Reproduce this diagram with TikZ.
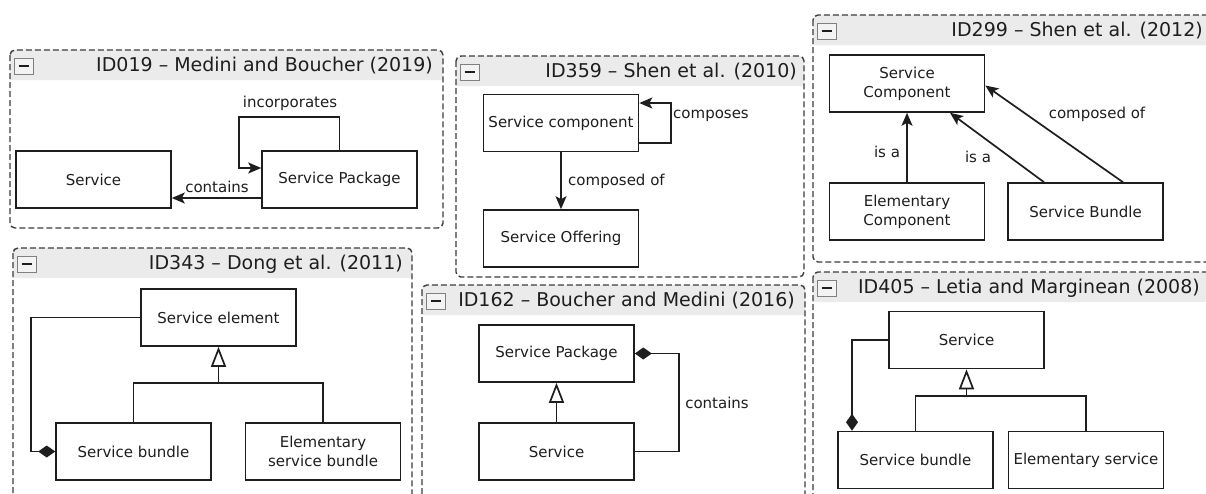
\documentclass[tikz,border=0pt]{standalone}
\usepackage{fontspec}
\setmainfont{DejaVu Sans}
\usetikzlibrary{arrows.meta}
\definecolor{ink}{HTML}{1E1E1E}
\definecolor{barcol}{HTML}{EBEBEB}
\definecolor{framecol}{HTML}{3C3C3C}
\tikzset{
  frame/.style={draw=framecol, line width=1.4pt, dash pattern=on 6pt off 3pt, rounded corners=5pt},
  barfill/.style={fill=barcol},
  minusbox/.style={draw=gray, fill=barcol!60, line width=0.9pt, minimum width=19pt, minimum height=16pt, inner sep=0pt,
    path picture={\draw[line width=2.2pt, ink] ([xshift=-5pt]path picture bounding box.center) -- ([xshift=5pt]path picture bounding box.center);}},
  ptitle/.style={text=ink, font=\fontsize{19}{22}\selectfont, inner sep=0pt},
  box/.style={draw=ink, fill=white, line width=1.6pt, minimum width=155pt, minimum height=57pt, inner sep=2pt, align=center, text=ink, font=\fontsize{15}{19}\selectfont},
  lbl/.style={text=ink, font=\fontsize{15}{18}\selectfont, inner sep=1pt},
  conn/.style={draw=ink, line width=1.7pt},
  arr/.style={conn, -{Stealth[length=13pt, width=11pt, inset=3pt]}},
  comp/.style={conn, {Diamond[length=17pt, width=12pt]}-},
  gen/.style={conn, -{Triangle[open, length=20pt, width=15pt, fill=white]}},
}
\newcommand{\mypanel}[7]{%
  \fill[barfill] (#1,{#2+30}) [rounded corners=5pt] -- (#1,#2) -- (#3,#2) [sharp corners] -- (#3,{#2+30}) -- cycle;
  \draw[frame] (#1,#2) rectangle (#3,#4);
  \node[minusbox] (minus#7) at ({#1+13.5},{#2+16}) {};
  \node[ptitle, anchor=east] (title#7) at (#5,{#2+16}) {#6};
}
\begin{document}
\begin{tikzpicture}[x=1pt, y=-1pt]
\useasboundingbox (0,0) rectangle (1206,493);
\fill[white] (0,0) rectangle (1206,493);

% ---------- Panel 1: ID019
\mypanel{10}{50}{443}{228}{433}{ID019 – Medini and Boucher (2019)}{A}
\node[box] (s1) at (93.5,179.5) {Service};
\node[box] (sp1) at (339.5,179.5) {Service Package};
\coordinate (c1) at (239,117);
\draw[comp, -{Stealth[length=13pt, width=11pt, inset=3pt]}] (sp1.north) |- (c1) |- ([yshift=11.5pt]sp1.west);
\node[lbl] (l1) at (290,103) {incorporates};
\draw[arr] ([yshift=-18.5pt]sp1.west) coordinate (a1) -- (a1 -| s1.east);
\node[lbl] (l2) at (217,187) {contains};

% ---------- Panel 2: ID359
\mypanel{456}{56}{804}{277}{797}{ID359 – Shen et al. (2010)}{B}
\node[box] (sc2) at (561,123) {Service component};
\node[box] (so2) at (561,238.5) {Service Offering};
\draw[arr] ([yshift=-20pt]sc2.east) -- ++(32,0) |- ([yshift=20pt]sc2.east);
\node[lbl, anchor=west] (l3) at (672,116) {composes};
\draw[arr] (sc2) -- (so2);
\node[lbl, anchor=west] (l4) at (567,181) {composed of};

% ---------- Panel 3: ID299
\mypanel{813}{15}{1215}{262}{1203}{ID299 – Shen et al. (2012)}{C}
\node[box] (sc3) at (907,83.5) {Service\\Component};
\node[box] (ec3) at (907,211.5) {Elementary\\Component};
\node[box] (sb3) at (1085.5,211.5) {Service Bundle};
\draw[arr] (ec3.north) -- (sc3.south);
\node[lbl] (l5) at (887,152) {is a};
\draw[arr] ([xshift=-41.5pt]sb3.north) -- ([xshift=43pt]sc3.south);
\node[lbl] (l6) at (978,157) {is a};
\draw[arr] ([xshift=37.5pt]sb3.north) -- ([yshift=-2pt]sc3.east);
\node[lbl] (l7) at (1097,114) {composed of};

% ---------- Panel 4: ID343
\mypanel{13}{248}{412}{510}{403}{ID343 – Dong et al. (2011)}{D}
\node[box] (se4) at (218.5,317.5) {Service element};
\node[box] (sb4) at (133.5,451.5) {Service bundle};
\node[box] (es4) at (323,451.5) {Elementary\\service bundle};
\coordinate (j4) at (218.5,383);
\draw[conn] (sb4.north) |- (j4) -| (es4.north);
\draw[gen] (j4) -- (se4.south);
\draw[comp] (sb4.west) -- ++(-24,0) |- (se4.west);

% ---------- Panel 5: ID162
\mypanel{422}{285}{805}{510}{795}{ID162 – Boucher and Medini (2016)}{E}
\node[box] (sp5) at (556.5,353.5) {Service Package};
\node[box] (s5) at (556.5,451.5) {Service};
\draw[gen] (s5.north) -- (sp5.south);
\draw[comp] (sp5.east) -- ++(44,0) |- (s5.east);
\node[lbl] (l8) at (717,403) {contains};

% ---------- Panel 6: ID405
\mypanel{813}{272}{1215}{510}{1200}{ID405 – Letia and Marginean (2008)}{F}
\node[box] (s6) at (966.5,340) {Service};
\node[box] (sb6) at (915.5,460) {Service bundle};
\node[box] (es6) at (1086,460) {Elementary service};
\coordinate (j6) at (966.5,396);
\draw[conn] (sb6.north) |- (j6) -| (es6.north);
\draw[gen] (j6) -- (s6.south);
\draw[comp] ([xshift=-63.5pt]sb6.north) |- (s6.west);
\end{tikzpicture}
\end{document}
